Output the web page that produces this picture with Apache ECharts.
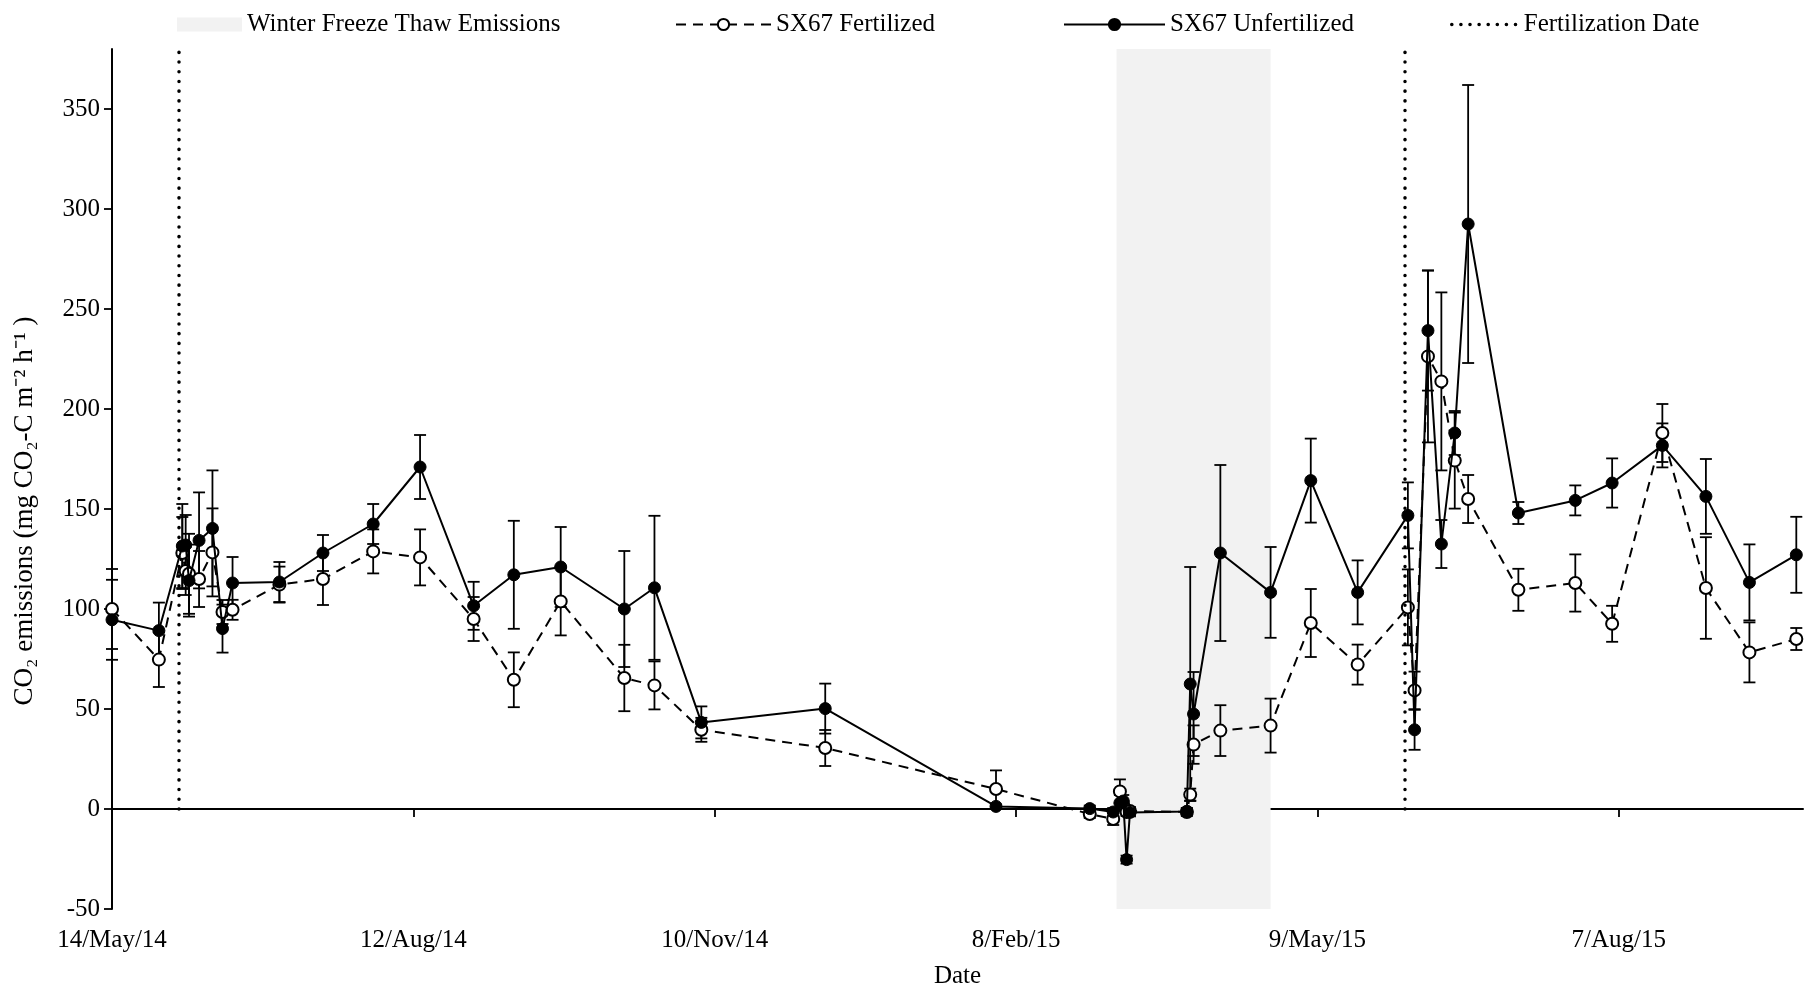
<!DOCTYPE html>
<html><head><meta charset="utf-8">
<script src="https://cdn.jsdelivr.net/npm/echarts@6/dist/echarts.min.js"></script>
<style>html,body{margin:0;padding:0;background:#fff}#c{width:1814px;height:989px}</style>
</head><body><div id="c"></div>
<script>
const startDate = '2014-05-14';
const endDate = '2015-10-01';
const dates = ['2014-05-14','2014-05-28','2014-06-04','2014-06-05','2014-06-06','2014-06-09','2014-06-13','2014-06-16','2014-06-19','2014-07-03','2014-07-16','2014-07-31','2014-08-14','2014-08-30','2014-09-11','2014-09-25','2014-10-14','2014-10-23','2014-11-06','2014-12-13','2015-02-02','2015-03-02','2015-03-09','2015-03-11','2015-03-12','2015-03-13','2015-03-14','2015-03-31','2015-04-01','2015-04-02','2015-04-10','2015-04-25','2015-05-07','2015-05-21','2015-06-05','2015-06-07','2015-06-11','2015-06-15','2015-06-19','2015-06-23','2015-07-08','2015-07-25','2015-08-05','2015-08-20','2015-09-02','2015-09-15','2015-09-29'];
const unfertilized = [94.6,89.2,131.5,132,114.2,134.3,140.3,90.2,113,113.5,128,142.5,171,101.6,117.1,121,100,110.6,43.3,50.2,1.3,0.2,-1.5,3,4,-25.3,-1.7,-1.2,62.5,47.5,128,108.3,164.2,108.3,146.8,39.6,239.2,132.5,188,292.5,148,154.3,163,181.8,156.3,113.3,127.1];
const unfertilizedErr = [20,14,21,15,18,24,29,12,13,10,9,10,16,12,27,20,29,36,8,12.5,1,1.5,2,4,3,2,2,1.5,58.5,21,44,22.7,21,16,16.5,10,30,12,11,69.5,5.5,7.5,12.3,11,18.7,19,19];
const fertilized = [100,74.7,128,119,117.6,115,128.3,98.5,99.6,112.2,115,128.8,125.8,95,64.6,103.8,65.5,61.8,39.6,30.5,10,-2.5,-5,8.8,2,-1.5,-1,-1.5,7.2,32.2,39.2,41.7,93,72.2,100.8,59.3,226.3,213.8,174.2,155,109.6,113,92.6,188,110.5,78.3,85];
const fertilizedErr = [20,13.7,18,12,20,14,22,6,5,9,13,11,14,11,13.7,17,16.6,12,6,9,9.3,2,3,6,2,2,2,2,3,9.6,12.7,13.5,17,10,19,9.4,43,44.5,24,12,10.5,14.3,9,14.5,25.4,15,5.5];
const fertilizationDates = ['2014-06-03','2015-06-04'];
const freezeThawPeriod = ['2015-03-10','2015-04-25'];
const xTickDates = ['2014-05-14','2014-08-12','2014-11-10','2015-02-08','2015-05-09','2015-08-07'];
const xTickLabels = ['14/May/14','12/Aug/14','10/Nov/14','8/Feb/15','9/May/15','7/Aug/15'];
const yTicks = [-50,0,50,100,150,200,250,300,350];
const yMin = -50, yMax = 380;

const FONT = 'Liberation Serif';
const dayOf = d => Math.round((Date.parse(d) - Date.parse(startDate)) / 86400000);
const xDays = dates.map(dayOf);
const xTickDays = xTickDates.map(dayOf);
const xMaxDay = dayOf(endDate);

const unfData = xDays.map((d, i) => [d, unfertilized[i]]);
const ferData = xDays.map((d, i) => [d, fertilized[i]]);
const unfErrData = xDays.map((d, i) => [d, unfertilized[i], unfertilizedErr[i]]);
const ferErrData = xDays.map((d, i) => [d, fertilized[i], fertilizedErr[i]]);

function errRender(params, api) {
  const x = api.value(0), v = api.value(1), e = api.value(2);
  const top = api.coord([x, v + e]);
  const bot = api.coord([x, v - e]);
  const w = 6;
  const st = { stroke: '#000', lineWidth: 1.8 };
  return { type: 'group', children: [
    { type: 'line', shape: { x1: top[0], y1: top[1], x2: bot[0], y2: bot[1] }, style: st },
    { type: 'line', shape: { x1: top[0] - w, y1: top[1], x2: top[0] + w, y2: top[1] }, style: st },
    { type: 'line', shape: { x1: bot[0] - w, y1: bot[1], x2: bot[0] + w, y2: bot[1] }, style: st }
  ]};
}

const dotted = { color: '#000', width: 3.5, type: [0.1, 9.6], cap: 'round' };
const legendText = { fontFamily: FONT, fontSize: 25, color: '#000' };

const chart = echarts.init(document.getElementById('c'), null, { renderer: 'canvas' });
chart.setOption({
  animation: false,
  backgroundColor: '#fff',
  grid: { left: 112, right: 11, top: 49, bottom: 80, containLabel: false, outerBoundsMode: 'none' },
  legend: [
    { data: [{ name: 'Winter Freeze Thaw Emissions', icon: 'rect' }], left: 172, top: 7, itemWidth: 65, itemHeight: 14, itemGap: 0, textStyle: legendText, selectedMode: false },
    { data: ['SX67 Fertilized'], left: 670, top: 7, itemWidth: 95, itemHeight: 14, textStyle: legendText, selectedMode: false },
    { data: ['SX67 Unfertilized'], left: 1058, top: 7, itemWidth: 101, itemHeight: 14, textStyle: legendText, selectedMode: false },
    { data: [{ name: 'Fertilization Date', itemStyle: { opacity: 0, color: 'rgba(0,0,0,0)', borderWidth: 0 } }], left: 1445, top: 7, itemWidth: 67, itemHeight: 14, textStyle: legendText, selectedMode: false,
      lineStyle: { color: '#000', width: 3.5, type: [0.1, 9], cap: 'round' } }
  ],
  xAxis: [
    { type: 'value', min: 0, max: xMaxDay, position: 'bottom',
      axisLine: { show: true, onZero: true, lineStyle: { color: '#000', width: 2 } },
      axisTick: { show: true, length: 8, inside: false, customValues: xTickDays, lineStyle: { color: '#000', width: 1.8 } },
      axisLabel: { show: false }, splitLine: { show: false } },
    { type: 'value', min: 0, max: xMaxDay, position: 'bottom',
      axisLine: { show: false, onZero: false }, axisTick: { show: false },
      axisLabel: { show: true, margin: 19, customValues: xTickDays, fontFamily: FONT, fontSize: 25, color: '#000',
        formatter: v => { const i = xTickDays.indexOf(Math.round(v)); return i >= 0 ? xTickLabels[i] : ''; } },
      splitLine: { show: false },
      name: 'Date', nameLocation: 'middle', nameGap: 55,
      nameTextStyle: { fontFamily: FONT, fontSize: 25, color: '#000' } }
  ],
  yAxis: {
    type: 'value', min: yMin, max: yMax,
    axisLine: { show: true, onZero: false, lineStyle: { color: '#000', width: 2 } },
    axisTick: { show: true, length: 8, customValues: yTicks, lineStyle: { color: '#000', width: 1.8 } },
    axisLabel: { customValues: yTicks, margin: 12, fontFamily: FONT, fontSize: 25, color: '#000' },
    splitLine: { show: false },
    name: 'CO\u2082 emissions (mg CO\u2082-C m\u207B\u00B2 h\u207B\u00B9 )',
    nameLocation: 'middle', nameGap: 74, nameRotate: 90,
    nameTextStyle: { fontFamily: FONT, fontSize: 27, color: '#000', padding: [0, 64, 0, 0] }
  },
  series: [
    { name: 'Winter Freeze Thaw Emissions', type: 'line', data: [], color: '#f2f2f2',
      itemStyle: { color: '#f2f2f2' }, z: 0,
      markArea: { silent: true, itemStyle: { color: '#f2f2f2' },
        data: [[{ xAxis: dayOf(freezeThawPeriod[0]) }, { xAxis: dayOf(freezeThawPeriod[1]) }]] } },
    { name: 'Fertilization Date', type: 'line', data: [], symbol: 'none', color: '#000',
      lineStyle: dotted, z: 1,
      markLine: { silent: true, symbol: ['none', 'none'], label: { show: false }, lineStyle: dotted,
        data: fertilizationDates.map(d => [{ coord: [dayOf(d), 0] }, { coord: [dayOf(d), yMax] }]) } },
    { name: 'errF', type: 'custom', renderItem: errRender, data: ferErrData, z: 2, silent: true },
    { name: 'errU', type: 'custom', renderItem: errRender, data: unfErrData, z: 2, silent: true },
    { name: 'SX67 Fertilized', type: 'line', data: ferData, z: 3, color: '#000',
      symbol: 'circle', symbolSize: 12, showAllSymbol: true,
      itemStyle: { color: '#fff', borderColor: '#000', borderWidth: 2 },
      lineStyle: { color: '#000', width: 2, type: [10, 7] } },
    { name: 'SX67 Unfertilized', type: 'line', data: unfData, z: 4, color: '#000',
      symbol: 'circle', symbolSize: 12, showAllSymbol: true,
      itemStyle: { color: '#000', borderColor: '#000', borderWidth: 1 },
      lineStyle: { color: '#000', width: 2 } }
  ]
});
</script></body></html>
